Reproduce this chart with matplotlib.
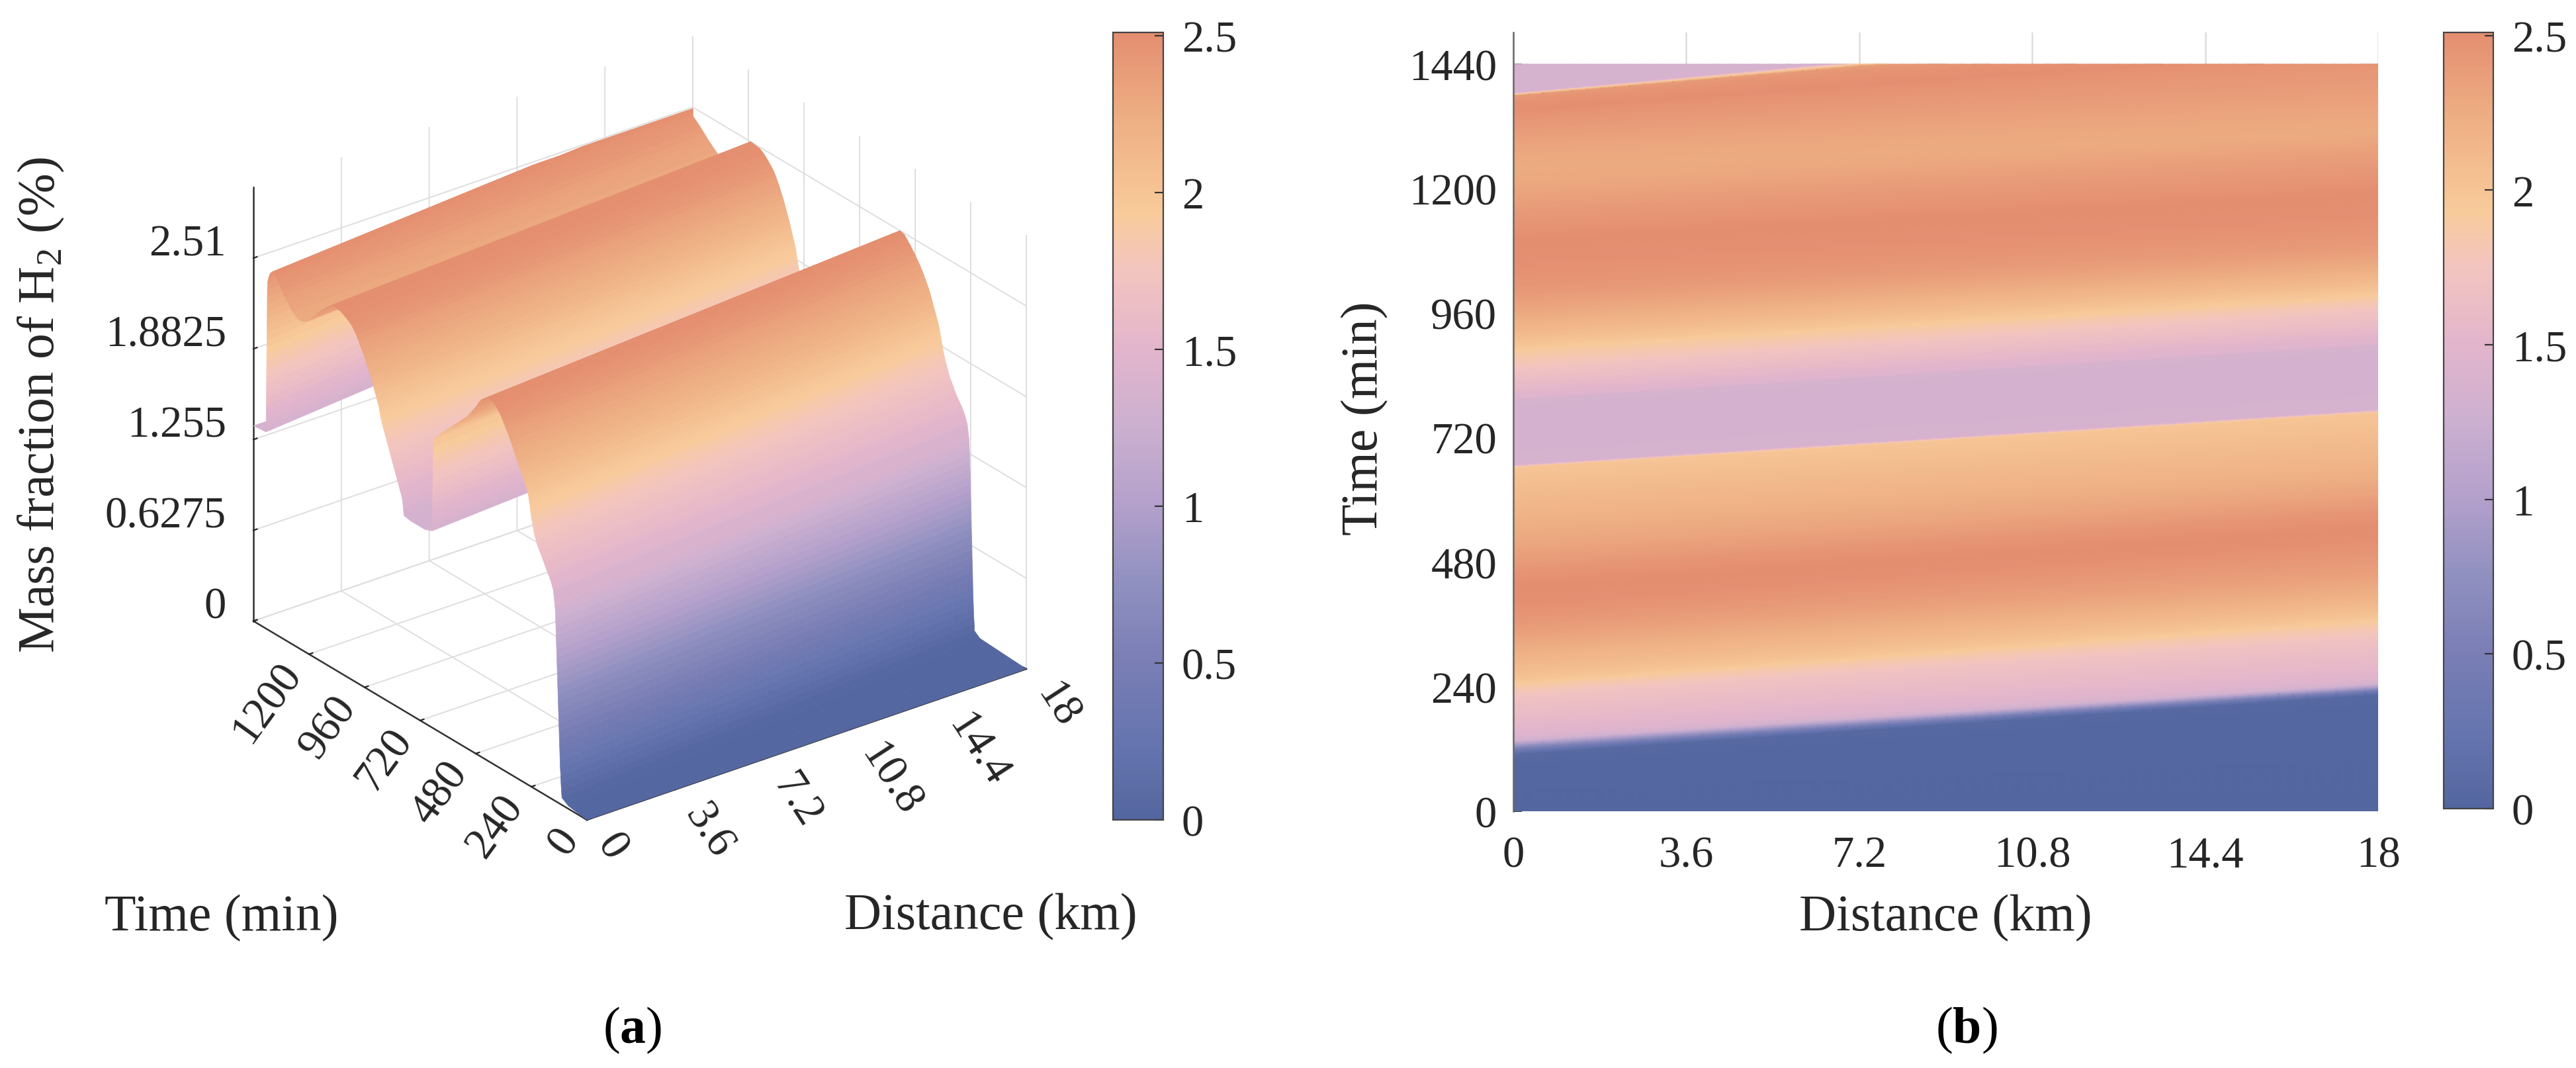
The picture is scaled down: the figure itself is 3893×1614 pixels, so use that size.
import numpy as np
import matplotlib
matplotlib.use("Agg")
import matplotlib.pyplot as plt
from matplotlib.colors import LinearSegmentedColormap, Normalize
from matplotlib.cm import ScalarMappable
from matplotlib.transforms import Affine2D
from mpl_toolkits.mplot3d import proj3d

plt.rcParams['font.family'] = ['Liberation Serif', 'DejaVu Serif']
plt.rcParams['mathtext.fontset'] = 'custom'
plt.rcParams['mathtext.rm'] = 'Liberation Serif'
plt.rcParams['mathtext.bf'] = 'Liberation Serif:bold'

# ---- data -----------------------------------------------------------------
# Each row is one feature of the gas front: its mass fraction and when it
# passes the pipe inlet (0 km) and the outlet (18 km).
mass_fraction = [
    0.00, 0.02,
    0.05, 0.10, 0.15, 0.20, 0.25, 0.30, 0.35, 0.40, 0.45, 0.50, 0.55, 0.60, 0.65, 0.70, 0.75, 0.80, 0.85, 0.90,
    0.95, 1.00, 1.05, 1.10, 1.15, 1.20, 1.25, 1.30, 1.35,
    1.45, 1.475, 1.50, 1.525, 1.55, 1.575, 1.60, 1.625, 1.65, 1.675, 1.70, 1.725, 1.75, 1.775, 1.80, 1.825,
    1.85, 1.875, 1.90, 1.925, 1.95, 1.975, 2.00, 2.025, 2.05, 2.075, 2.10, 2.125, 2.15, 2.175, 2.20, 2.225,
    2.25, 2.275, 2.30, 2.325, 2.35, 2.375, 2.40, 2.425, 2.45, 2.475, 2.50, 2.51,
    2.49, 2.47, 2.44, 2.40, 2.375, 2.35, 2.325, 2.30, 2.275, 2.25, 2.225, 2.20, 2.175, 2.15, 2.125, 2.10,
    2.075, 2.05, 2.025, 2.00,
    1.95, 1.90, 1.85, 1.80, 1.75, 1.70, 1.65, 1.60, 1.55, 1.50, 1.45, 1.40, 1.36,
    1.34, 1.34, 1.35,
    1.40, 1.45, 1.475, 1.50, 1.525, 1.55, 1.575, 1.60, 1.625, 1.65, 1.675, 1.70, 1.725, 1.75, 1.775, 1.80,
    1.825, 1.85, 1.875, 1.90, 1.925, 1.95, 1.975, 2.00, 2.025, 2.05, 2.075, 2.10, 2.125, 2.15, 2.175, 2.20,
    2.225, 2.25, 2.275, 2.30, 2.325, 2.35, 2.375, 2.40, 2.425, 2.45, 2.475, 2.50, 2.51,
    2.475, 2.45, 2.425, 2.40, 2.375, 2.35, 2.325, 2.30, 2.28, 2.27, 2.28, 2.30, 2.325, 2.35, 2.375, 2.40,
    2.425, 2.45, 2.475, 2.50, 2.49, 2.47, 2.44, 2.40,
    2.35, 2.30, 2.25, 2.20, 2.15, 2.10, 2.05, 2.00, 1.95, 1.90, 1.85, 1.80, 1.75, 1.70, 1.65, 1.60,
    1.55, 1.50, 1.45, 1.40, 1.36, 1.35]
time_at_0km = [
    0, 80,
    108, 110, 112, 113, 115, 116, 117, 118, 119, 120, 121, 122, 123, 124, 125, 126, 127, 128,
    129, 130, 131, 132, 133, 134, 135, 136, 138,
    145, 150, 155, 162, 170, 178, 185, 192, 200, 208, 215, 220, 225, 229, 232, 235,
    238, 241, 243, 245, 247, 250, 252, 257, 262, 268, 275, 281, 288, 295, 302, 308,
    315, 321, 328, 335, 342, 350, 358, 366, 375, 387, 400, 430,
    443, 455, 467, 478, 488, 497, 506, 515, 527, 540, 552, 565, 577, 590, 602, 615,
    627, 640, 651, 662,
    663, 663.5, 664, 664.5, 665, 665.5, 666, 666.5, 667, 667.5, 668, 668.5, 669,
    700, 760, 790,
    793, 796, 800, 805, 810, 815, 820, 825, 830, 835, 840, 845, 850, 855, 860, 865,
    870, 875, 880, 885, 889, 892, 895, 898, 903, 908, 913, 918, 923, 928, 934, 940,
    946, 952, 958, 965, 972, 980, 987, 995, 1005, 1015, 1035, 1060, 1100,
    1120, 1135, 1148, 1160, 1170, 1180, 1192, 1205, 1220, 1240, 1255, 1270, 1283, 1295, 1305, 1315,
    1325, 1335, 1343, 1350, 1360, 1368, 1374, 1379,
    1379.5, 1380, 1380.3, 1380.6, 1380.9, 1381.2, 1381.5, 1381.8, 1382.1, 1382.4, 1382.7, 1383, 1383.3, 1383.6, 1383.9, 1384.2,
    1384.5, 1384.8, 1385.1, 1385.4, 1386, 1440]
time_at_18km = [
    0, 200,
    224, 225, 227, 228, 229, 230, 231, 231.5, 232, 233, 234, 234.5, 235, 236, 237, 237.5, 238, 239,
    240, 240.5, 241, 242, 243, 244, 245, 246, 247,
    255, 260, 265, 272, 280, 290, 300, 308, 315, 322, 330, 335, 340, 345, 350, 354,
    358, 361, 364, 367, 370, 373, 376, 380, 385, 390, 395, 400, 405, 410, 415, 421,
    428, 435, 442, 450, 458, 468, 478, 489, 500, 513, 526, 545,
    557, 570, 580, 590, 598, 605, 613, 622, 631, 640, 650, 660, 672, 685, 698, 712,
    726, 740, 754, 768,
    769, 770, 770.5, 771, 771.5, 772, 772.5, 773, 773.5, 774, 774.5, 775, 776,
    810, 870, 895,
    899, 902, 908, 915, 920, 925, 930, 935, 940, 945, 952, 958, 963, 968, 973, 978,
    982, 985, 988, 990, 993, 995, 999, 1003, 1008, 1012, 1016, 1020, 1025, 1030, 1035, 1040,
    1045, 1050, 1056, 1062, 1068, 1075, 1082, 1090, 1102, 1115, 1130, 1150, 1190,
    1210, 1225, 1238, 1250, 1263, 1275, 1285, 1295, 1303, 1310, 1325, 1340, 1358, 1375, 1390, 1405,
    1422, 1440, 1455, 1470, 1485, 1500, 1510, 1520,
    1521, 1522, 1523, 1524, 1525, 1526, 1527, 1528, 1529, 1530, 1531, 1532, 1533, 1534, 1535, 1536,
    1537, 1538, 1539, 1540, 1541, 1600]

distance_ticks = [0, 3.6, 7.2, 10.8, 14.4, 18]
distance_labels = ['0', '3.6', '7.2', '10.8', '14.4', '18']
time_ticks = [0, 240, 480, 720, 960, 1200, 1440]
time_labels_3d = ['0', '240', '480', '720', '960', '1200', '']
time_labels_2d = ['0', '240', '480', '720', '960', '1200', '1440']
height_ticks = [0, 0.6275, 1.255, 1.8825, 2.51]
height_labels = ['0', '0.6275', '1.255', '1.8825', '2.51']
colorbar_ticks = [0, 0.5, 1, 1.5, 2, 2.5]
colorbar_labels = ['0', '0.5', '1', '1.5', '2', '2.5']

color_stops = [(0.00, '#54669F'), (0.10, '#6675AF'), (0.20, '#7A7EB5'), (0.30, '#9090C0'),
               (0.40, '#B3A0CB'), (0.50, '#CCB0D0'), (0.60, '#E3B5CC'), (0.70, '#F3C5BF'),
               (0.77, '#F8CB9B'), (0.90, '#EDAC82'), (1.00, '#E48E70')]

# ---- grids -----------------------------------------------------------------
W, H = 3893, 1615
DPI = 200
cmap = LinearSegmentedColormap.from_list('h2', color_stops, N=512)
norm = Normalize(0, 2.51)

nx = 61
dist = np.linspace(0, 18, nx)
t0 = np.array(time_at_0km, float)
t18 = np.array(time_at_18km, float)
Zr = np.array(mass_fraction, float)
assert len(t0) == len(t18) == len(Zr)
frac = dist / 18.0
T = np.minimum(t0[:, None] + (t18 - t0)[:, None] * frac[None, :], 1440)
X = np.repeat(dist[None, :], len(t0), axis=0)
Z = np.repeat(Zr[:, None], nx, axis=1)


def fig_box(x0, y0, x1, y1):
    return [x0 / W, 1 - y1 / H, (x1 - x0) / W, (y1 - y0) / H]


fig = plt.figure(figsize=(W / DPI, H / DPI), dpi=DPI, facecolor='white')
FS = 24
LABEL_FS = 28
DARK = '#262626'
GRID = '#dedede'

# ---- panel (a) -------------------------------------------------------------
ax = fig.add_axes(fig_box(100, 50, 1500, 1450), projection='3d', proj_type='ortho')
ax.patch.set_alpha(0)
ax.view_init(elev=26.9, azim=-127.2)
ax.set_box_aspect((1, 1, 0.882))
ax.set_xlim(0, 18, view_margin=0)
ax.set_ylim(0, 1440, view_margin=0)
ax.set_zlim(0, 3, view_margin=0)
surf = ax.plot_surface(X, T, Z, cmap=cmap, norm=norm, rstride=1, cstride=1,
                       linewidth=0, antialiased=True, shade=False)
surf.set_linewidth(0.25)
surf.set_edgecolor('face')
ax.set_xticks(distance_ticks, distance_labels)
ax.set_yticks(time_ticks, time_labels_3d)
ax.set_zticks(height_ticks, height_labels)
for axis in (ax.xaxis, ax.yaxis, ax.zaxis):
    axis.set_pane_color((1, 1, 1, 0))
    axis.pane.set_edgecolor('none')
    axis._axinfo['grid'].update(color=GRID, linewidth=0.7)
    axis._axinfo['tick'].update(inward_factor=0.0, outward_factor=0.10,
                                linewidth={True: 0.8, False: 0.8}, color=DARK)
    axis._axinfo['axisline'].update(color='#333333', linewidth=0.9)
    axis.line.set_color('#333333')
    axis.line.set_linewidth(0.9)
ax.tick_params(axis='x', labelsize=FS, pad=6, colors=DARK)
ax.tick_params(axis='y', labelsize=FS, pad=6, colors=DARK)
ax.tick_params(axis='z', labelsize=FS, pad=10, colors=DARK)


def nudge(label, dx, dy):
    # mplot3d resets tick-label transforms while drawing, so the offset is
    # attached to the label's own get_transform
    label.get_transform = lambda: ax.transData + Affine2D().translate(dx, dy)


for lbl in ax.get_xticklabels():
    lbl.set(rotation=-57, ha='left', va='center', rotation_mode='anchor')
    nudge(lbl, 0, 26)
for lbl in ax.get_yticklabels():
    lbl.set(rotation=54, ha='right', va='center', rotation_mode='anchor')
    nudge(lbl, 12, 30)
for lbl in ax.get_zticklabels():
    lbl.set(ha='right', va='center')
    nudge(lbl, 42, 16)


def project(x, y, z):
    px, py, _ = proj3d.proj_transform(x, y, z, ax.get_proj())
    return ax.transData.transform((px, py))


# fit the box to its place on the page
near_target = np.array([887.0, H - 1240.0])
right_target = np.array([1551.0, H - 1012.0])
for _ in range(3):
    ax.apply_aspect()
    p_near = project(0, 0, 0)
    p_right = project(18, 0, 0)
    scale = np.linalg.norm(right_target - near_target) / np.linalg.norm(p_right - p_near)
    pos = ax.get_position(original=True)
    new_w, new_h = pos.width * scale, pos.height * scale
    new_x = pos.x0 - (new_w - pos.width) / 2
    new_y = pos.y0 - (new_h - pos.height) / 2
    ax.set_position([new_x, new_y, new_w, new_h])
    ax.apply_aspect()
    p_near = project(0, 0, 0)
    shift = near_target - p_near
    pos = ax.get_position(original=True)
    ax.set_position([pos.x0 + shift[0] / W, pos.y0 + shift[1] / H, pos.width, pos.height])

fig.text(335 / W, 1 - 1388 / H, 'Time (min)', fontsize=LABEL_FS, ha='center', va='center', color=DARK)
fig.text(1497 / W, 1 - 1386 / H, 'Distance (km)', fontsize=LABEL_FS, ha='center', va='center', color=DARK)
fig.text(62 / W, 1 - 612 / H, 'Mass fraction of H$_2$ (%)', fontsize=LABEL_FS, rotation=90,
         ha='center', va='center', color=DARK)
fig.text(956 / W, 1 - 1557 / H, r'($\mathbf{a}$)', fontsize=LABEL_FS, ha='center', va='center', color='black')

# ---- panel (b) -------------------------------------------------------------
ax2 = fig.add_axes(fig_box(2287, 50, 3594, 1227))
ax2.pcolormesh(X, T, Z, cmap=cmap, norm=norm, shading='gouraud', rasterized=True)
ax2.set_xlim(0, 18)
ax2.set_ylim(0, 1501)
ax2.set_xticks(distance_ticks, distance_labels)
ax2.set_yticks(time_ticks, time_labels_2d)
ax2.set_axisbelow(True)
ax2.grid(axis='x', color=GRID, linewidth=0.9)
ax2.tick_params(axis='both', direction='in', length=4.7, width=0.7, color='#333333', labelcolor=DARK,
                labelsize=FS)
ax2.tick_params(axis='x', pad=13, length=0)
ax2.tick_params(axis='y', pad=9)
for side in ('top', 'right', 'bottom'):
    ax2.spines[side].set_visible(False)
ax2.spines['left'].set_color('#666666')
ax2.spines['left'].set_linewidth(0.9)
ax2.spines['left'].set_zorder(5)
ax2.set_xlabel('Distance (km)', fontsize=LABEL_FS, color=DARK, va='center')
ax2.xaxis.set_label_coords(0.5, -0.136)
ax2.set_ylabel('Time (min)', fontsize=LABEL_FS, color=DARK, va='center')
ax2.yaxis.set_label_coords(-0.172, 0.505)
fig.text(2972 / W, 1 - 1557 / H, r'($\mathbf{b}$)', fontsize=LABEL_FS, ha='center', va='center', color='black')

# ---- colour bars -----------------------------------------------------------
for box in (fig_box(1682, 50, 1758, 1240), fig_box(3693, 50, 3768, 1223)):
    cax = fig.add_axes(box)
    cb = fig.colorbar(ScalarMappable(norm=norm, cmap=cmap), cax=cax)
    cb.set_ticks(colorbar_ticks, labels=colorbar_labels)
    cb.ax.tick_params(direction='in', length=4.7, width=0.8, color='#333333', labelcolor=DARK,
                      labelsize=FS, pad=10)
    cb.outline.set_edgecolor('#444444')
    cb.outline.set_linewidth(0.8)

fig.savefig('out.png', dpi=DPI)
